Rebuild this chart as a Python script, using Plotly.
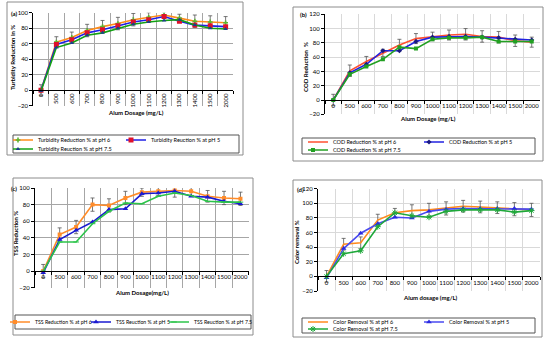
import plotly.graph_objects as go

W, H = 550, 344

categories = ["0", "500", "600", "700", "800", "900", "1000", "1100", "1200", "1300", "1400", "1500", "2000"]

# (a) Turbidity
turb_ph6 = [0, 62, 68, 77, 82, 86, 91, 94, 97, 93, 89, 88, 87]
turb_ph5 = [0, 59, 65, 74, 78, 83, 88, 91, 95, 89, 84, 83, 82]
turb_ph75 = [-1, 55, 61, 71, 74, 80, 85, 88, 90, 91, 84, 80, 79]
turb_err = [7, 7, 7, 8, 8, 8, 8, 6, 4, 5, 8, 8, 8]

# (b) COD
cod_ph6 = [0, 41, 54, 66, 77, 86, 89, 91, 92, 89, 88, 83, 81]
cod_ph5 = [0, 38, 50, 69, 69, 82, 88, 89, 89, 88, 87, 85, 84]
cod_ph75 = [0, 36, 47, 57, 74, 72, 85, 87, 87, 88, 82, 82, 82]
cod_err = [8, 8, 7, 5, 8, 7, 6, 7, 8, 8, 8, 8, 7]

# (c) TSS
tss_ph6 = [0, 44, 53, 80, 79, 88, 95, 96, 97, 96, 90, 88, 87]
tss_ph5 = [-2, 38, 49, 59, 74, 75, 93, 94, 96, 90, 89, 84, 81]
tss_ph75 = [0, 35, 35, 57, 72, 82, 81, 90, 94, 91, 84, 83, 83]
tss_err = [8, 8, 8, 8, 8, 8, 5, 5, 8, 5, 7, 8, 8]

# (d) Color
col_ph6 = [0, 44, 46, 77, 87, 90, 91, 93, 96, 95, 94, 92, 91]
col_ph5 = [-2, 38, 59, 72, 81, 80, 89, 92, 93, 93, 93, 93, 92]
col_ph75 = [0, 31, 35, 68, 87, 83, 81, 89, 91, 91, 91, 88, 90]
col_err = [8, 8, 8, 8, 6, 8, 9, 9, 8, 8, 8, 9, 9]

FONT = "Lato"


def px(x):
    return x / W


def py(y):
    return 1 - y / H


fig = go.Figure()

panels = [
    dict(id="", plot=(33.3, 233.3, 12.7, 105.7), top=100, grid="#a6a6a6", angle=-90,
         label="(a)", label_pos=(14, 14), ytitle="Turbidity Reduction in %", ytitle_pos=(13, 58),
         xtitle="Alum Dosage (mg/L)", xtitle_pos=(136, 113),
         frame=(7, 243, 2, 155), lbox=(13, 239, 135, 153), lfont=5.5),
    dict(id="2", plot=(325, 540, 14.3, 114.3), top=120, grid="#d9d9d9", angle=0,
         label="(b)", label_pos=(303, 15), ytitle="COD Reduction  %", ytitle_pos=(305, 67),
         xtitle="Alum Dosage (mg/L)", xtitle_pos=(428, 119),
         frame=(293, 543, 7, 161), lbox=(302, 535, 138, 154), lfont=5.5),
    dict(id="3", plot=(35, 248.7, 188, 287.7), top=100, grid="#a6a6a6", angle=0,
         label="(c)", label_pos=(14, 188), ytitle="TSS Reduction %", ytitle_pos=(15, 234),
         xtitle="Alum Dosage(mg/L)", xtitle_pos=(142, 292),
         frame=(13, 253, 178, 335), lbox=(15, 251, 315, 329), lfont=5.2),
    dict(id="4", plot=(318, 540, 188.7, 291), top=120, grid="#d9d9d9", angle=0,
         label="(d)", label_pos=(300, 189), ytitle="Color removal %", ytitle_pos=(296, 242),
         xtitle="Alum dosage (mg/L)", xtitle_pos=(430, 297),
         frame=(293, 542, 180, 337), lbox=(302, 535, 318, 333), lfont=5.5),
]

err_style = dict(type="data", visible=True, color="#555555", thickness=0.8, width=2)

series = [
    # panel a
    [("Turbidity Reduction % at pH 6", turb_ph6, "#ff8c1a", dict(symbol="cross", size=4, color="#5cb531"), True),
     ("Turbidity Reuction % at pH 5", turb_ph5, "#1f1fe6", dict(symbol="square", size=5, color="#e0102a"), False),
     ("Turbidity Reuction % at pH 7.5", turb_ph75, "#14a014", dict(symbol="triangle-up", size=4, color="#1c3c8c"), False)],
    # panel b
    [("COD Reduction % at pH 6", cod_ph6, "#ff5030", None, True),
     ("COD Reduction % at pH 5", cod_ph5, "#2222e0", dict(symbol="diamond", size=4, color="#1a1a80"), False),
     ("COD Reduction % at pH 7.5", cod_ph75, "#22a022", dict(symbol="square", size=4, color="#22a022"), False)],
    # panel c
    [("TSS Reduction % at pH 6", tss_ph6, "#ff8c2a", dict(symbol="square", size=4, color="#ff8c2a"), True),
     ("TSS Reuction % at pH 5", tss_ph5, "#1a1ad0", dict(symbol="triangle-up", size=5, color="#1a1ad0"), False),
     ("TSS Reuction % at pH 7.5", tss_ph75, "#2cc44a", dict(symbol="line-ew-open", size=4, color="#2cc44a"), False)],
    # panel d
    [("Color Removal % at pH 6", col_ph6, "#ff8a1e", None, True),
     ("Color Removal % at pH 5", col_ph5, "#4a4af0", dict(symbol="triangle-up", size=5, color="#2a2ae0"), False),
     ("Color Removal % at pH 7.5", col_ph75, "#1fa83a", dict(symbol="asterisk-open", size=5, color="#1fa83a", line=dict(width=1, color="#1fa83a")), False)],
]
errors = [turb_err, cod_err, tss_err, col_err]

# legend text-start positions (px) per panel: item1, item2, item3
legend_pos = [
    [(38, 140), (151, 140), (38, 149)],
    [(333, 142), (449, 142), (333, 150)],
    [(35, 322), (116, 322), (194, 322)],
    [(333, 322), (449, 322), (333, 329)],
]

shapes = []
annotations = []
layout_extra = {}
legend_counter = 0

for pi, p in enumerate(panels):
    x0, x1, y0, y1 = p["plot"]
    top = p["top"]
    zero_py = y0 + (top - 0) / (top + 20) * (y1 - y0)
    xa = "xaxis" + p["id"]
    ya = "yaxis" + p["id"]
    layout_extra[xa] = dict(
        domain=[px(x0), px(x1)], type="category", categoryarray=categories, categoryorder="array",
        range=[-0.5, len(categories) - 0.5], tickson="boundaries", showgrid=True, gridcolor=p["grid"],
        gridwidth=1, ticks="outside", ticklen=3, tickcolor="#000", anchor="free",
        position=py(zero_py), showline=True, linecolor="#000", linewidth=1,
        tickfont=dict(size=6, family=FONT, color="#000"), tickangle=p["angle"], zeroline=False,
    )
    layout_extra[ya] = dict(
        domain=[py(y1), py(y0)], range=[-20, top], dtick=20, tick0=0, showgrid=True, gridcolor=p["grid"],
        gridwidth=1, ticks="outside", ticklen=3, tickcolor="#000", showline=True, linecolor="#000",
        linewidth=1, zeroline=False, anchor="x" + p["id"],
        tickfont=dict(size=6, family=FONT, color="#000"),
    )
    # frames
    fx0, fx1, fy0, fy1 = p["frame"]
    shapes.append(dict(type="rect", xref="paper", yref="paper", x0=px(fx0), x1=px(fx1),
                       y0=py(fy1), y1=py(fy0), line=dict(color="#8c8c8c", width=1)))
    lx0, lx1, ly0, ly1 = p["lbox"]
    shapes.append(dict(type="rect", xref="paper", yref="paper", x0=px(lx0), x1=px(lx1),
                       y0=py(ly1), y1=py(ly0), line=dict(color="#555555", width=1)))
    # texts
    annotations.append(dict(text="<b>%s</b>" % p["label"], x=px(p["label_pos"][0]), y=py(p["label_pos"][1]),
                            xref="paper", yref="paper", showarrow=False, xanchor="center", yanchor="middle",
                            font=dict(size=6, family=FONT, color="#000")))
    annotations.append(dict(text="<b>%s</b>" % p["ytitle"], x=px(p["ytitle_pos"][0]), y=py(p["ytitle_pos"][1]),
                            xref="paper", yref="paper", showarrow=False, textangle=-90,
                            xanchor="center", yanchor="middle", font=dict(size=6, family=FONT, color="#000")))
    annotations.append(dict(text="<b>%s</b>" % p["xtitle"], x=px(p["xtitle_pos"][0]), y=py(p["xtitle_pos"][1]),
                            xref="paper", yref="paper", showarrow=False,
                            xanchor="center", yanchor="middle", font=dict(size=6, family=FONT, color="#000")))
    # traces
    for si, (name, vals, color, marker, has_err) in enumerate(series[pi]):
        legend_counter += 1
        lname = "legend" if legend_counter == 1 else "legend%d" % legend_counter
        tx, ty = legend_pos[pi][si]
        layout_extra[lname] = dict(
            x=px(tx - 25), y=py(ty), xanchor="left", yanchor="middle", bgcolor="rgba(0,0,0,0)",
            borderwidth=0, font=dict(size=p["lfont"], family=FONT, color="#000"), itemwidth=30,
            indentation=-15, tracegroupgap=0,
        )
        tr = dict(
            x=categories, y=vals, name=name, xaxis="x" + p["id"], yaxis="y" + p["id"],
            line=dict(color=color, width=1.6), legend=lname, showlegend=True,
            mode="lines+markers" if marker else "lines",
        )
        if marker:
            tr["marker"] = marker
        if has_err:
            tr["error_y"] = dict(array=errors[pi], **err_style)
        fig.add_trace(go.Scatter(**tr))

fig.update_layout(
    width=W, height=H, margin=dict(l=0, r=0, t=0, b=0, autoexpand=False),
    paper_bgcolor="white", plot_bgcolor="white",
    shapes=shapes, annotations=annotations, font=dict(family=FONT, size=6, color="#000"),
    **layout_extra,
)

fig.write_html(
    "out.html",
    config={"displayModeBar": False},
    post_script="document.body.style.margin='0';document.body.style.padding='0';"
                "document.body.style.overflow='hidden';",
)
